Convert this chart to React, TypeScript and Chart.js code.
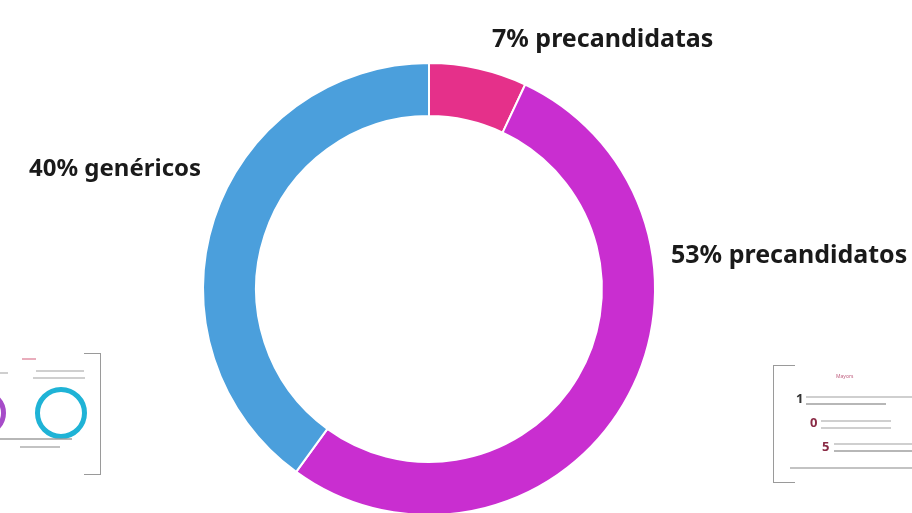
import React, { useEffect, useRef } from "react";
import { Chart, registerables } from "chart.js";

Chart.register(...registerables);

const categories = ["precandidatas", "precandidatos", "genéricos"];
const values = [7, 53, 40];
const colors = ["#e5308a", "#c92ed0", "#4b9fdc"];

const labelPos = [
  { left: 492, top: 23 },
  { left: 671, top: 239 },
  { left: 29, top: 153 },
];

const FONT = "'Noto Sans', 'Open Sans', sans-serif";

function Thumbs() {
  const line = "#9a9a9a";
  const txt = (l: number, t: number, w: number, c = "#bbb") => (
    <div style={{ position: "absolute", left: l, top: t, width: w, height: 2, background: c, opacity: 0.7 }} />
  );
  return (
    <>
      {/* left thumbnail */}
      <div style={{ position: "absolute", left: 100, top: 353, width: 1, height: 122, background: line }} />
      <div style={{ position: "absolute", left: 84, top: 353, width: 17, height: 1, background: line }} />
      <div style={{ position: "absolute", left: 84, top: 474, width: 17, height: 1, background: line }} />
      <div style={{ position: "absolute", left: 35, top: 387, width: 42, height: 42, borderRadius: "50%", border: "5px solid #1fb3d6" }} />
      <div style={{ position: "absolute", left: -40, top: 390, width: 36, height: 36, borderRadius: "50%", border: "5px solid #a64bc8" }} />
      {txt(22, 358, 14, "#e08aa0")}
      {txt(36, 370, 48)}
      {txt(33, 377, 52)}
      {txt(0, 372, 8)}
      {txt(0, 438, 72, "#999")}
      {txt(20, 446, 40, "#aaa")}
      {/* right thumbnail */}
      <div style={{ position: "absolute", left: 773, top: 365, width: 1, height: 118, background: line }} />
      <div style={{ position: "absolute", left: 773, top: 365, width: 22, height: 1, background: line }} />
      <div style={{ position: "absolute", left: 773, top: 482, width: 22, height: 1, background: line }} />
      <div style={{ position: "absolute", left: 836, top: 373, fontSize: 5, color: "#c06080", fontFamily: FONT }}>Mayors</div>
      <div style={{ position: "absolute", left: 796, top: 389, fontSize: 13, fontWeight: 700, color: "#333", fontFamily: FONT }}>1</div>
      <div style={{ position: "absolute", left: 810, top: 413, fontSize: 13, fontWeight: 700, color: "#8a2a45", fontFamily: FONT }}>0</div>
      <div style={{ position: "absolute", left: 822, top: 437, fontSize: 13, fontWeight: 700, color: "#8a2a45", fontFamily: FONT }}>5</div>
      {txt(806, 396, 106)}
      {txt(806, 403, 80, "#999")}
      {txt(821, 420, 70)}
      {txt(821, 427, 70)}
      {txt(834, 443, 78)}
      {txt(834, 450, 78, "#999")}
      {txt(790, 467, 122, "#aaa")}
    </>
  );
}

export default function App() {
  const ref = useRef<HTMLCanvasElement>(null);
  useEffect(() => {
    if (!ref.current) return;
    const chart = new Chart(ref.current, {
      type: "doughnut",
      data: {
        labels: categories,
        datasets: [
          {
            data: values,
            backgroundColor: colors,
            borderColor: "#ffffff",
            borderWidth: 2,
            radius: 226,
          },
        ],
      },
      options: {
        responsive: false,
        animation: false,
        cutout: "76.5%",
        layout: { padding: { left: 0, right: 54, top: 0, bottom: 0 } },
        plugins: { legend: { display: false }, tooltip: { enabled: false } },
      },
    });
    return () => chart.destroy();
  }, []);
  return (
    <div style={{ position: "fixed", left: 0, top: 0, width: 912, height: 513, overflow: "hidden", background: "#fff" }}>
      <canvas ref={ref} width={912} height={578} style={{ position: "absolute", left: 0, top: 0, width: 912, height: 578 }} />
      {values.map((v, i) => (
        <div
          key={i}
          style={{
            position: "absolute",
            left: labelPos[i].left,
            top: labelPos[i].top,
            fontFamily: FONT,
            fontWeight: 700,
            fontSize: i === 2 ? 24 : 25,
            color: "#1a1a1a",
            whiteSpace: "nowrap",
            lineHeight: "28px",
          }}
        >
          {`${v}% ${categories[i]}`}
        </div>
      ))}
      <Thumbs />
    </div>
  );
}
